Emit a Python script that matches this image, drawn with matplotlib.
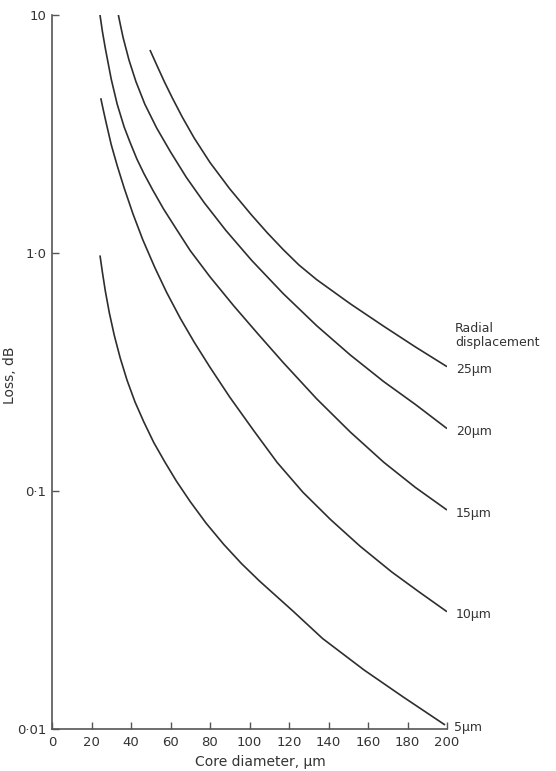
import matplotlib
matplotlib.use("Agg")
import matplotlib.pyplot as plt
from matplotlib.ticker import FixedLocator, FixedFormatter, NullLocator

# Core diameter (um) and loss (dB) for each radial displacement
x_5 = [24.3, 25.5, 27, 29, 31.5, 34.5, 38, 42, 46.5, 51.5, 57, 63, 70, 78, 87, 96,
       105, 114, 122, 137, 158, 178, 199]
y_5 = [0.977, 0.832, 0.692, 0.562, 0.452, 0.363, 0.292, 0.237, 0.195, 0.160, 0.133,
       0.110, 0.0902, 0.0733, 0.0596, 0.0495, 0.0419, 0.0359, 0.0313, 0.0240,
       0.0177, 0.0136, 0.0104]

x_10 = [24.7, 26, 27.5, 30, 33, 36.5, 41, 46, 52, 58, 65, 72, 80, 90, 102, 114, 127,
        141, 156, 172, 186, 200]
y_10 = [4.47, 3.98, 3.50, 2.85, 2.33, 1.88, 1.46, 1.135, 0.871, 0.684, 0.531, 0.422,
        0.331, 0.248, 0.180, 0.1318, 0.0989, 0.0759, 0.0586, 0.0457, 0.0376, 0.0311]

x_15 = [24.3, 25.5, 27, 30, 33, 36.5, 39.5, 43, 46.5, 51, 56.5, 63, 70, 80, 92, 104,
        117, 134, 151, 168, 184, 200]
y_15 = [10.0, 8.55, 7.24, 5.37, 4.22, 3.39, 2.92, 2.48, 2.16, 1.84, 1.53, 1.259, 1.023,
        0.794, 0.600, 0.460, 0.347, 0.244, 0.177, 0.132, 0.1035, 0.0832]

x_20 = [33.6, 34.8, 36, 39, 42.5, 47, 53, 60, 68, 77, 88, 101, 117, 134, 151, 168,
        184, 200]
y_20 = [10.0, 8.95, 8.04, 6.46, 5.25, 4.22, 3.35, 2.66, 2.08, 1.63, 1.245, 0.933,
        0.676, 0.495, 0.373, 0.288, 0.231, 0.183]

x_25 = [49.6, 53, 57, 61, 66, 72, 80, 90, 101, 109, 117, 125, 134, 151, 168, 184, 200]
y_25 = [7.13, 6.17, 5.22, 4.47, 3.72, 3.04, 2.40, 1.86, 1.445, 1.216, 1.035, 0.891,
        0.773, 0.612, 0.492, 0.403, 0.333]

series_labels = ["5\u00b5m", "10\u00b5m", "15\u00b5m", "20\u00b5m", "25\u00b5m"]
x_ticks = [0, 20, 40, 60, 80, 100, 120, 140, 160, 180, 200]
y_ticks = [0.01, 0.1, 1.0, 10]
y_ticklabels = ["0\u00b701", "0\u00b71", "1\u00b70", "10"]

fig = plt.figure(figsize=(5.56, 7.71), dpi=100)
ax = fig.add_axes([52/556, 1 - 729/771, 395/556, 714/771])

line_color = "#2e2e2e"
text_color = "#333333"
series = [(x_5, y_5), (x_10, y_10), (x_15, y_15), (x_20, y_20), (x_25, y_25)]
for (xs, ys), lab in zip(series, series_labels):
    ax.plot(xs, ys, color=line_color, lw=1.2, solid_capstyle="butt",
            solid_joinstyle="round")
    ax.annotate(lab, xy=(xs[-1], ys[-1]), xytext=(9, -3), textcoords="offset pixels",
                ha="left", va="center", fontsize=9, color=text_color)

ax.annotate("Radial\ndisplacement", xy=(x_25[-1], y_25[-1]), xytext=(8, 18),
            textcoords="offset pixels", ha="left", va="bottom", fontsize=9,
            color=text_color, linespacing=1.1)

ax.set_yscale("log")
ax.set_xlim(0, 200)
ax.set_ylim(0.01, 10)
ax.xaxis.set_major_locator(FixedLocator(x_ticks))
ax.yaxis.set_major_locator(FixedLocator(y_ticks))
ax.yaxis.set_major_formatter(FixedFormatter(y_ticklabels))
ax.yaxis.set_minor_locator(NullLocator())

for s in ["top", "right"]:
    ax.spines[s].set_visible(False)
for s in ["left", "bottom"]:
    ax.spines[s].set_color("#555555")
    ax.spines[s].set_linewidth(1.2)

ax.tick_params(axis="both", direction="in", length=5, width=1, color="#555555",
               labelsize=9.5, labelcolor=text_color)
ax.tick_params(axis="x", pad=5)
ax.tick_params(axis="y", pad=4)

ax.set_xlabel("Core diameter, \u00b5m", fontsize=10, color=text_color)
ax.xaxis.set_label_coords(0.527, -0.036)
ax.set_ylabel("Loss, dB", fontsize=10, color=text_color)
ax.yaxis.set_label_coords(-0.089, 0.496)

fig.savefig("out.png", dpi=100, facecolor="white")
